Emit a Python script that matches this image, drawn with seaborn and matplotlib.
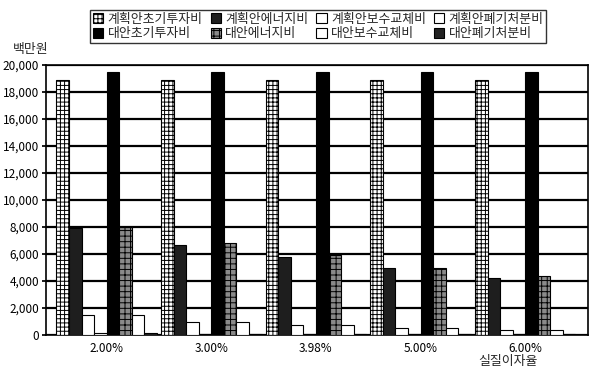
import pandas as pd
import matplotlib
matplotlib.use("Agg")
import matplotlib.pyplot as plt
import matplotlib.ticker as ticker
from matplotlib.patches import Patch
import seaborn as sns

# 실질이자율별 계획안/대안 비용 비교 (단위: 백만원)
rates = ["2.00%", "3.00%", "3.98%", "5.00%", "6.00%"]

plan_init = [18900, 18900, 18900, 18900, 18900]
plan_energy = [7900, 6700, 5800, 5000, 4200]
plan_repair = [1500, 1000, 750, 550, 350]
plan_dispose = [150, 100, 80, 60, 40]
alt_init = [19500, 19500, 19500, 19500, 19500]
alt_energy = [8000, 6800, 5900, 5000, 4400]
alt_repair = [1500, 1000, 750, 550, 350]
alt_dispose = [150, 100, 80, 60, 40]

series_names = ["계획안초기투자비", "계획안에너지비", "계획안보수교체비", "계획안폐기처분비",
                "대안초기투자비", "대안에너지비", "대안보수교체비", "대안폐기처분비"]
series_values = [plan_init, plan_energy, plan_repair, plan_dispose,
                 alt_init, alt_energy, alt_repair, alt_dispose]

# 막대 스타일 (면색, 해치)
styles = {
    "계획안초기투자비": ("white", "++++"),
    "계획안에너지비": ("#1e1e1e", ""),
    "계획안보수교체비": ("white", ""),
    "계획안폐기처분비": ("white", ""),
    "대안초기투자비": ("black", ""),
    "대안에너지비": ("#8a8a8a", "+++"),
    "대안보수교체비": ("white", ""),
    "대안폐기처분비": ("#222222", ""),
}

rows = []
for name, vals in zip(series_names, series_values):
    for r, v in zip(rates, vals):
        rows.append({"rate": r, "series": name, "value": v})
df = pd.DataFrame(rows)

sns.set_theme(style="white")
plt.rcParams["font.family"] = ["Noto Sans CJK KR", "DejaVu Sans"]
plt.rcParams["hatch.linewidth"] = 0.7

fig = plt.figure(figsize=(5.95, 3.72), dpi=100)
ax = fig.add_axes([46 / 595, 37 / 372, 542 / 595, 270 / 372])

palette = {n: styles[n][0] for n in series_names}
sns.barplot(data=df, x="rate", y="value", hue="series", hue_order=series_names,
            palette=palette, edgecolor="black", linewidth=0.8, width=0.96,
            legend=False, ax=ax, zorder=3)

for name, cont in zip(series_names, ax.containers):
    for p in cont.patches:
        p.set_hatch(styles[name][1])
        p.set_edgecolor("black")

ax.set_xlim(-0.58, 4.6)
ax.set_ylim(0, 20000)
ax.yaxis.set_major_locator(ticker.MultipleLocator(2000))
ax.yaxis.set_major_formatter(ticker.StrMethodFormatter("{x:,.0f}"))
ax.grid(axis="y", color="black", linewidth=1.6, zorder=0)
ax.set_axisbelow(True)
ax.set_xlabel("")
ax.set_ylabel("")
for s in ax.spines.values():
    s.set_color("black")
    s.set_linewidth(1.2)
ax.tick_params(axis="y", labelsize=8.5, length=3, direction="out", left=True, pad=2, colors="black")
ax.tick_params(axis="x", labelsize=8.5, length=0, pad=5, colors="black")

# 범례 (2행 4열)
handles = [Patch(facecolor=styles[n][0], edgecolor="black", hatch=styles[n][1], linewidth=0.8)
           for n in series_names]
order = [0, 4, 1, 5, 2, 6, 3, 7]
leg = fig.legend([handles[i] for i in order], [series_names[i] for i in order],
                 loc="upper center", bbox_to_anchor=(0.535, 0.99), ncol=4,
                 fontsize=9.3, frameon=True, fancybox=False, edgecolor="black",
                 handlelength=0.8, handleheight=0.8, handletextpad=0.35,
                 columnspacing=0.6, labelspacing=0.1, borderpad=0.2)
leg.get_frame().set_linewidth(1.0)

fig.text(0.022, 1 - 49 / 372, "백만원", fontsize=9.3, ha="left", va="center")
fig.text(508 / 595, 1 - 361 / 372, "실질이자율", fontsize=9.3, ha="center", va="center")

fig.savefig("out.png", dpi=100)
